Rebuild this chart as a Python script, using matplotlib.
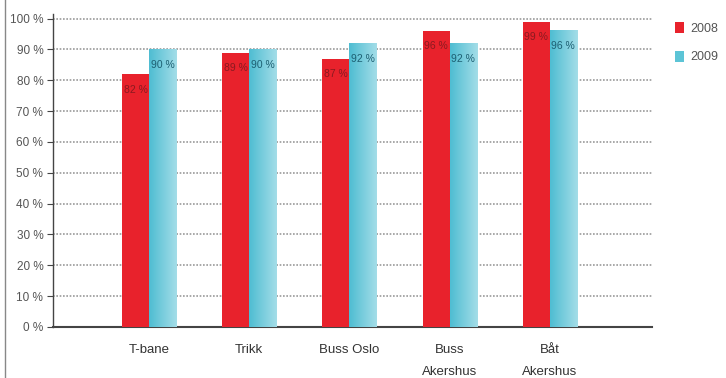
import matplotlib
matplotlib.use("Agg")
import matplotlib.pyplot as plt
import numpy as np
from matplotlib.lines import Line2D
from matplotlib.colors import LinearSegmentedColormap

categories = ["T-bane", "Trikk", "Buss Oslo", "Buss\nAkershus", "Båt\nAkershus"]
years = ["2008", "2009"]
vals_2008 = [82, 89, 87, 96, 99]
vals_2009 = [90, 90, 92, 92, 96]
yticks = list(range(0, 101, 10))

plt.rcParams["font.family"] = ["Liberation Sans Narrow", "Liberation Sans", "DejaVu Sans"]

red = "#e8222c"
blue = "#5cc4d6"

fig = plt.figure(figsize=(7.26, 3.78), dpi=100)
ax = fig.add_axes([0.073, 0.135, 0.825, 0.828])

x = np.arange(len(categories))
w = 0.27
b1 = ax.bar(x - w / 2, vals_2008, w, color=red, zorder=3, label=years[0])
b2 = ax.bar(x + w / 2, vals_2009, w, color=blue, zorder=3, label=years[1])

# light gradient on the 2009 bars
grad = np.linspace(0, 1, 64).reshape(1, -1)
cmap = LinearSegmentedColormap.from_list("g", ["#4fbdd2", "#a3dde8"])
for p in b2:
    x0, y0 = p.get_x(), p.get_y()
    ax.imshow(grad, cmap=cmap, aspect="auto", zorder=3.5,
              extent=[x0, x0 + p.get_width(), y0, y0 + p.get_height()])

for p, v in zip(b1, vals_2008):
    ax.text(p.get_x() + p.get_width() / 2, v - 5, f"{v} %", ha="center", va="center",
            fontsize=7.5, color="#8a1a20", zorder=5)
for p, v in zip(b2, vals_2009):
    ax.text(p.get_x() + p.get_width() / 2, v - 5, f"{v} %", ha="center", va="center",
            fontsize=7.5, color="#1d5f72", zorder=5)

ax.set_xlim(-0.96, 5.02)
ax.set_ylim(0, 101.5)
ax.set_yticks(yticks)
ax.set_yticklabels([f"{t} %" for t in yticks], fontsize=8.5, color="#555555")
ax.set_xticks(x)
ax.set_xticklabels(categories, fontsize=9.5, color="#333333", linespacing=2.1)
ax.tick_params(axis="x", length=0, pad=12)
ax.tick_params(axis="y", length=4, width=0.8, color="#444444", pad=3)

ax.yaxis.grid(True, linestyle=(0, (1, 1)), color="#999999", linewidth=1.2, zorder=1)
ax.set_axisbelow(True)

for s in ["top", "right"]:
    ax.spines[s].set_visible(False)
ax.spines["left"].set_color("#444444")
ax.spines["bottom"].set_color("#444444")
ax.spines["left"].set_linewidth(1.0)
ax.spines["bottom"].set_linewidth(1.5)

leg = ax.legend(loc="upper left", bbox_to_anchor=(1.02, 1.01), frameon=False,
                fontsize=9, handlelength=0.7, handleheight=1.0, labelspacing=1.25,
                handletextpad=0.5)
for t in leg.get_texts():
    t.set_color("#555555")

fig.add_artist(Line2D([5 / 726, 5 / 726], [0, 1], color="#888888", linewidth=1.0))

fig.savefig("out.png", dpi=100)
